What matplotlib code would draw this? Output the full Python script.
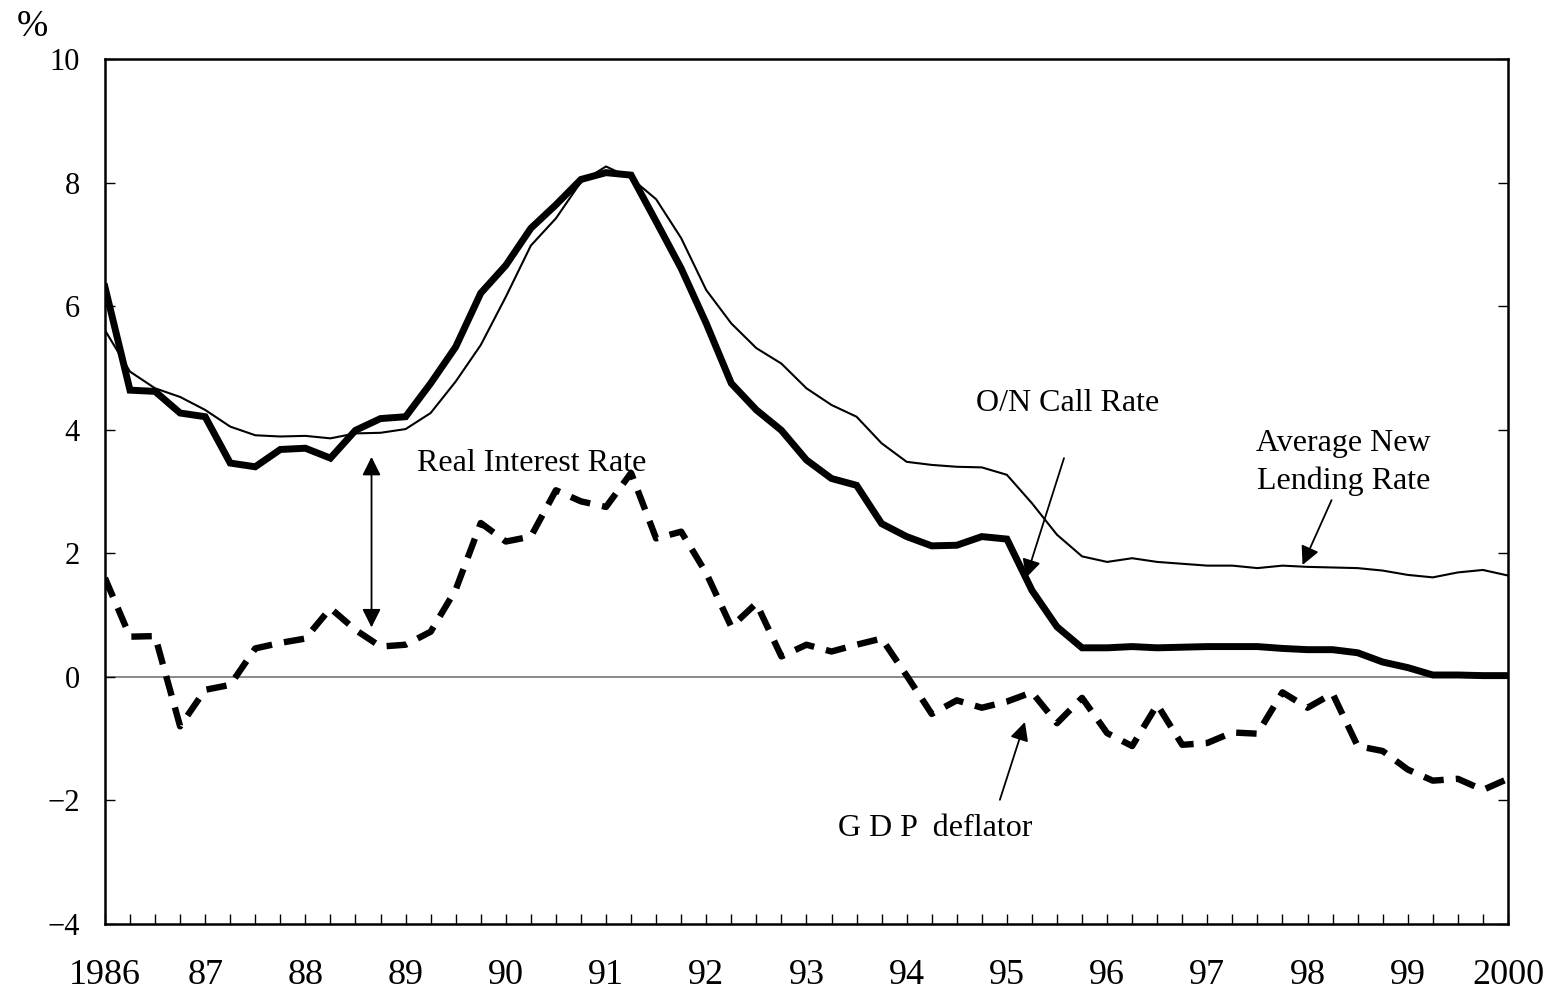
import numpy as np
import matplotlib
matplotlib.use("Agg")
import matplotlib.pyplot as plt

plt.rcParams['font.family'] = ['Liberation Serif', 'DejaVu Serif']

# quarterly data, 1986Q1 - 2000Q1
start_year = 1986
call_rate = [6.31, 4.64, 4.62, 4.27, 4.21, 3.46, 3.40, 3.68, 3.70, 3.54,
             3.99, 4.18, 4.21, 4.75, 5.34, 6.21, 6.66, 7.26, 7.64, 8.05,
             8.16, 8.12, 7.37, 6.61, 5.72, 4.75, 4.32, 3.99, 3.51, 3.21,
             3.10, 2.48, 2.27, 2.12, 2.13, 2.27, 2.23, 1.40, 0.81, 0.47,
             0.47, 0.49, 0.47, 0.48, 0.49, 0.49, 0.49, 0.46, 0.44, 0.44,
             0.39, 0.24, 0.15, 0.03, 0.03, 0.02, 0.02]
lending_rate = [5.61, 4.94, 4.67, 4.53, 4.32, 4.05, 3.91, 3.89, 3.90, 3.86,
                3.94, 3.95, 4.01, 4.27, 4.78, 5.37, 6.15, 6.98, 7.42, 8.01,
                8.26, 8.07, 7.73, 7.10, 6.26, 5.72, 5.32, 5.07, 4.67, 4.40,
                4.21, 3.78, 3.48, 3.43, 3.40, 3.39, 3.27, 2.81, 2.30, 1.95,
                1.86, 1.92, 1.86, 1.83, 1.80, 1.80, 1.76, 1.80, 1.78, 1.77,
                1.76, 1.72, 1.65, 1.61, 1.69, 1.73, 1.64]
gdp_deflator = [1.60, 0.65, 0.66, -0.80, -0.21, -0.13, 0.46, 0.55, 0.62, 1.11,
                0.76, 0.49, 0.52, 0.73, 1.41, 2.49, 2.19, 2.27, 3.02, 2.84,
                2.75, 3.30, 2.24, 2.35, 1.68, 0.81, 1.19, 0.33, 0.52, 0.41,
                0.52, 0.62, 0.02, -0.60, -0.38, -0.50, -0.40, -0.25, -0.75, -0.34,
                -0.91, -1.12, -0.45, -1.10, -1.07, -0.90, -0.92, -0.25, -0.50, -0.27,
                -1.12, -1.20, -1.50, -1.68, -1.65, -1.83, -1.65]
year_labels = ['1986', '87', '88', '89', '90', '91', '92', '93', '94', '95',
               '96', '97', '98', '99', '2000']

x = start_year + np.arange(len(call_rate)) / 4.0

fig = plt.figure(figsize=(15.57, 9.91), dpi=100)
ax = fig.add_axes([0.0674, 0.0676, 0.9011, 0.8729])

ax.axhline(0, color='#808080', lw=1.3, zorder=1)
ax.plot(x, lending_rate, color='black', lw=1.5, zorder=2)
ax.plot(x, call_rate, color='black', lw=5.0, solid_joinstyle='miter', zorder=3)
ax.plot(x, gdp_deflator, color='black', lw=4.6, dashes=(3.2, 1.9), zorder=3)

ax.set_xlim(1986, 2000)
ax.set_ylim(-4, 10)
ax.set_yticks(np.arange(-4, 11, 2))
ax.set_yticklabels([str(v).replace('-', '\u2212') for v in range(-4, 11, 2)])
ax.set_xticks(np.arange(1986, 2001))
ax.set_xticklabels(year_labels)
ax.set_xticks(np.arange(1986, 2000.01, 0.25), minor=True)

ax.tick_params(axis='y', which='both', direction='in', length=7, width=1,
               left=True, right=True, labelsize=22, pad=18)
ax.tick_params(axis='x', which='major', direction='in', length=7, width=1,
               labelsize=26, pad=25)
ax.tick_params(axis='x', which='minor', direction='in', length=7, width=1)
for s in ax.spines.values():
    s.set_linewidth(1.8)

fig.text(0.0105, 0.973, '%', fontsize=27, ha='left', va='center')

arrow = dict(arrowstyle='-|>', color='black', lw=1.3, mutation_scale=28,
             shrinkA=0, shrinkB=0)
ax.annotate('', xy=(1995.19, 1.60), xytext=(1995.57, 3.54), arrowprops=arrow)
ax.text(1995.61, 4.43, 'O/N Call Rate', fontsize=23, ha='center', va='center')

ax.annotate('', xy=(1997.95, 1.81), xytext=(1998.24, 2.86), arrowprops=arrow)
ax.text(1998.36, 3.47, 'Average New\nLending Rate', fontsize=23,
        ha='center', va='center', linespacing=1.35)

ax.annotate('', xy=(1988.66, 0.80), xytext=(1988.66, 3.56),
            arrowprops=dict(arrowstyle='<|-|>', color='black', lw=1.3,
                            mutation_scale=28, shrinkA=0, shrinkB=0))
ax.text(1990.26, 3.46, 'Real Interest Rate', fontsize=23, ha='center', va='center')

ax.annotate('', xy=(1995.18, -0.73), xytext=(1994.93, -1.99), arrowprops=arrow)
ax.text(1994.28, -2.46, 'G D P  deflator', fontsize=23, ha='center', va='center')

fig.savefig('out.png', dpi=100)
